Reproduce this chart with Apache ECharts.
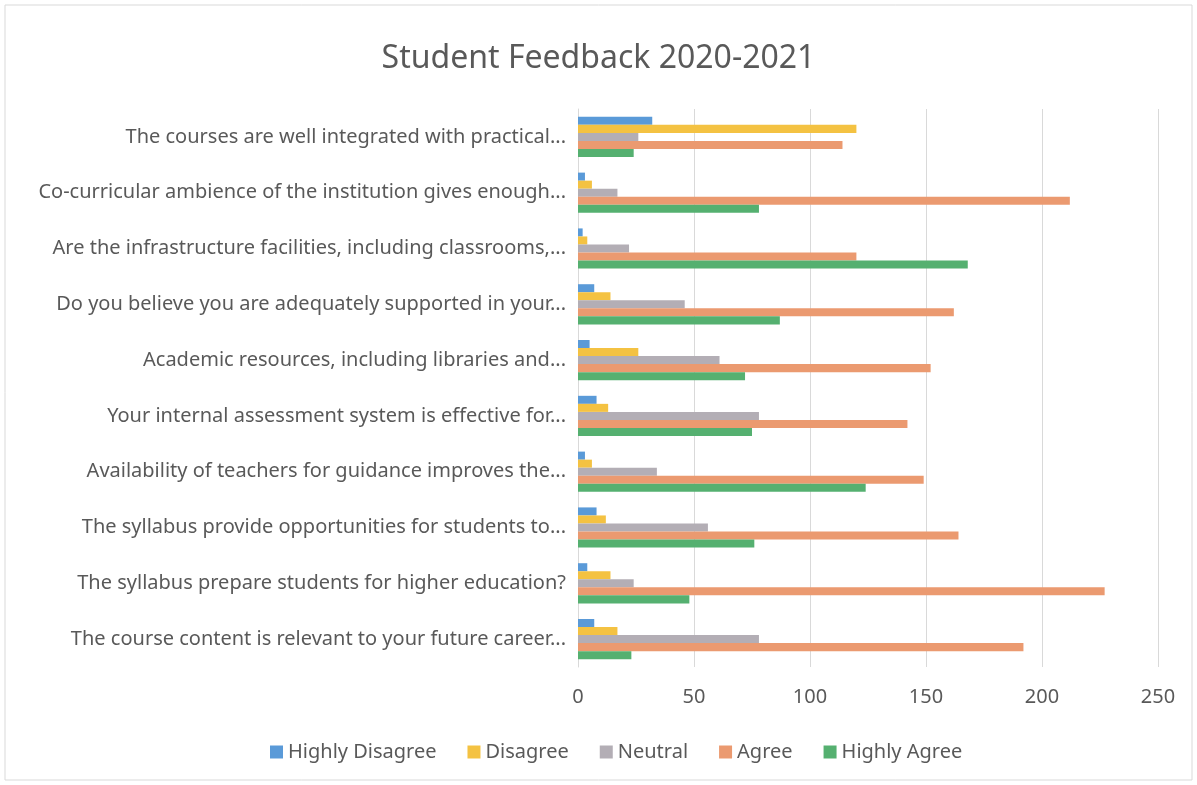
<!DOCTYPE html>
<html>
<head>
<meta charset="utf-8">
<script src="https://cdn.jsdelivr.net/npm/echarts@6/dist/echarts.min.js"></script>
<style>
  html, body { margin: 0; padding: 0; background: #fff; }
  #main { width: 1197px; height: 785px; }
</style>
</head>
<body>
<div id="main"></div>
<script>
// questions, listed bottom to top as on the axis
var questions = [
    'The course content is relevant to your future career...',
    'The syllabus prepare students for higher education?',
    'The syllabus provide opportunities for students to...',
    'Availability of teachers for guidance improves the...',
    'Your internal assessment system is effective for...',
    'Academic resources, including libraries and...',
    'Do you believe you are adequately supported in your...',
    'Are the infrastructure facilities, including classrooms,...',
    'Co-curricular ambience of the institution gives enough...',
    'The courses are well integrated with practical...'
];

var highlyDisagree = [7, 4, 8, 3, 8, 5, 7, 2, 3, 32];
var disagree       = [17, 14, 12, 6, 13, 26, 14, 4, 6, 120];
var neutral        = [78, 24, 56, 34, 78, 61, 46, 22, 17, 26];
var agree          = [192, 227, 164, 149, 142, 152, 162, 120, 212, 114];
var highlyAgree    = [23, 48, 76, 124, 75, 72, 87, 168, 78, 24];

var xTicks = [0, 50, 100, 150, 200, 250];

var chart = echarts.init(document.getElementById('main'));

var txtFont = 'Noto Sans';
var grey = '#595959';

function bar(name, values, color) {
    return {
        name: name,
        type: 'bar',
        data: values,
        barGap: '0%',
        barCategoryGap: '28%',
        itemStyle: { color: color }
    };
}

var option = {
    backgroundColor: '#fff',
    animation: false,
    title: {
        text: 'Student Feedback 2020-2021',
        left: 'center',
        top: 38,
        textStyle: { fontFamily: txtFont, fontSize: 32, fontWeight: 'normal', color: grey }
    },
    legend: {
        bottom: 18,
        left: 265,
        itemWidth: 13,
        itemHeight: 13,
        itemGap: 31,
        icon: 'rect',
        textStyle: { fontFamily: txtFont, fontSize: 20, color: grey },
        data: ['Highly Disagree', 'Disagree', 'Neutral', 'Agree', 'Highly Agree']
    },
    grid: {
        left: 578,
        right: 39,
        top: 109,
        bottom: 118
    },
    xAxis: {
        type: 'value',
        min: xTicks[0],
        max: xTicks[xTicks.length - 1],
        interval: 50,
        axisLine: { show: false },
        axisTick: { show: false },
        axisLabel: { fontFamily: txtFont, fontSize: 20, color: grey, margin: 20 },
        splitLine: { lineStyle: { color: '#d9d9d9' } }
    },
    yAxis: {
        type: 'category',
        data: questions,
        axisLine: { lineStyle: { color: '#d9d9d9' } },
        axisTick: { show: false },
        axisLabel: { fontFamily: txtFont, fontSize: 20, color: grey, margin: 12 }
    },
    graphic: [{
        type: 'rect',
        shape: { x: 5, y: 5, width: 1187, height: 775 },
        style: { fill: null, stroke: '#d9d9d9', lineWidth: 1 },
        silent: true
    }],
    series: [
        bar('Highly Disagree', highlyDisagree, '#5a9ad8'),
        bar('Disagree', disagree, '#f4c242'),
        bar('Neutral', neutral, '#b3aeb5'),
        bar('Agree', agree, '#eb9a70'),
        bar('Highly Agree', highlyAgree, '#55b070')
    ]
};

chart.setOption(option);
</script>
</body>
</html>
